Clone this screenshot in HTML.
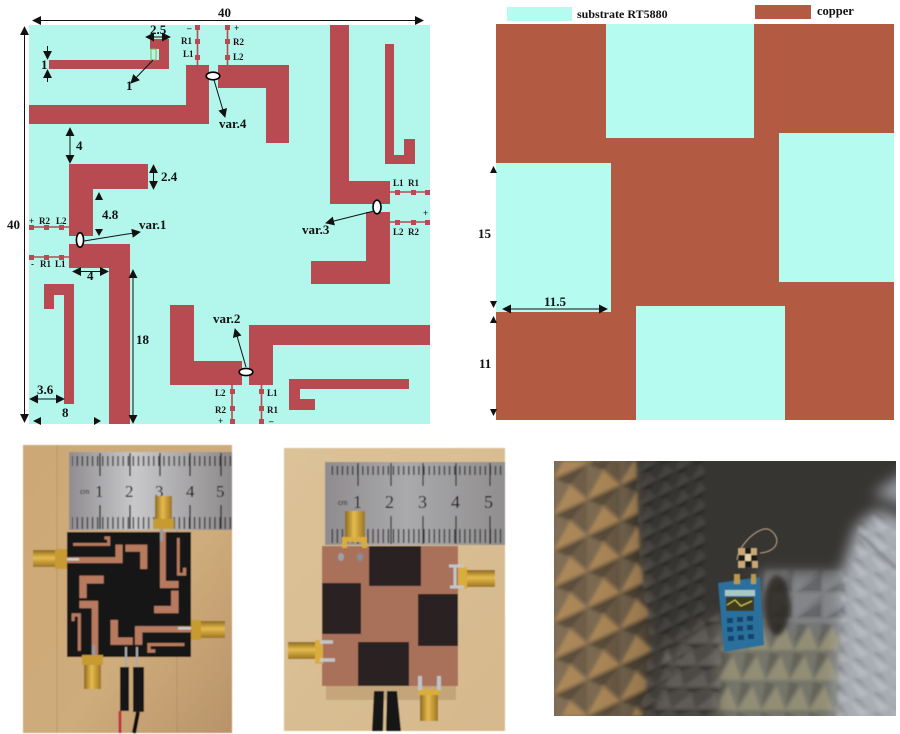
<!DOCTYPE html>
<html lang="en">
<head>
<meta charset="utf-8">
<title>Antenna layout and prototype</title>
<style>
html,body{margin:0;padding:0;background:#fff}
svg{display:block}
text{font-family:"Liberation Serif",serif;font-weight:bold;fill:#111}
.d{font-size:13px}
.s{font-size:9px}
.l{stroke:#111;stroke-width:1;fill:none}
.b{stroke:#b84a52;stroke-width:1.6;fill:none}
</style>
</head>
<body>
<svg width="900" height="734" viewBox="0 0 900 734" xmlns="http://www.w3.org/2000/svg">
<defs>
<path id="tr" d="M49 60H159V49H150V39H169V69H49Z M29 105H186V65H209V124H29Z M218 65H289V143H266V88H218Z M330 25H349V181H390V204H330Z M385 44H394V155H404V139H415V164H385Z M366 212H390V284H311V261H366Z M249 325H430V345H273V385H249Z M170 305H194V361H242V385H170Z M289 379H409V389H300V399H315V410H289Z M69 164H148V189H93V236H69Z M69 244H130V424H109V268H69Z M44 284H74V404H64V295H54V309H44Z"/>
<marker id="a" viewBox="0 0 10 10" refX="9" refY="5" markerWidth="9" markerHeight="9" orient="auto-start-reverse" markerUnits="userSpaceOnUse"><path d="M0 0L10 5L0 10Z" fill="#111"/></marker>
<filter id="bl" x="-5%" y="-5%" width="110%" height="110%"><feGaussianBlur stdDeviation="0.6"/></filter>
<filter id="bl15" x="-5%" y="-5%" width="110%" height="110%"><feGaussianBlur stdDeviation="1.5"/></filter>
<filter id="bl2" x="-10%" y="-10%" width="120%" height="120%"><feGaussianBlur stdDeviation="2.5"/></filter>
<filter id="bl3" x="-20%" y="-20%" width="140%" height="140%"><feGaussianBlur stdDeviation="7"/></filter>
<linearGradient id="wood1" x1="0" x2="1" y1="0" y2="1"><stop offset="0" stop-color="#cda877"/><stop offset=".6" stop-color="#cfac7b"/><stop offset="1" stop-color="#b8936a"/></linearGradient>
<linearGradient id="wood2" x1="0" x2="1" y1="0" y2="1"><stop offset="0" stop-color="#dcc298"/><stop offset="1" stop-color="#d6b98d"/></linearGradient>
<linearGradient id="rul" x1="0" x2="1"><stop offset="0" stop-color="#8f8d90"/><stop offset=".4" stop-color="#c8c8cb"/><stop offset="1" stop-color="#8d8a8a"/></linearGradient>
<linearGradient id="rul2" x1="0" x2="1"><stop offset="0" stop-color="#8e8c8e"/><stop offset=".45" stop-color="#aaa9ab"/><stop offset="1" stop-color="#908e8f"/></linearGradient>
<linearGradient id="gold" x1="0" x2="1"><stop offset="0" stop-color="#8c6a1c"/><stop offset=".45" stop-color="#e6bb4e"/><stop offset="1" stop-color="#9c7420"/></linearGradient>
<linearGradient id="goldh" x1="0" x2="0" y1="0" y2="1"><stop offset="0" stop-color="#8c6a1c"/><stop offset=".45" stop-color="#e6bb4e"/><stop offset="1" stop-color="#9c7420"/></linearGradient>
<pattern id="ticks" width="5.1" height="12" patternUnits="userSpaceOnUse"><rect width="1.5" height="12" fill="#2a2a2c"/></pattern>
<pattern id="pyrL" width="33" height="36" patternUnits="userSpaceOnUse" patternTransform="translate(554 478) skewY(-24)">
 <path d="M0 36L16 14L33 36Z" fill="#e0a860" fill-opacity=".45"/><path d="M0 0H33L16 14Z" fill="#000" fill-opacity=".28"/><path d="M33 0L16 14L33 36Z" fill="#000" fill-opacity=".12"/>
</pattern>
<pattern id="pyrM" width="17" height="17" patternUnits="userSpaceOnUse" patternTransform="translate(640 470) skewY(-26)">
 <path d="M0 17L8.5 8L17 17Z" fill="#fff" fill-opacity=".07"/><path d="M0 0H17L8.5 8Z" fill="#000" fill-opacity=".2"/>
</pattern>
<pattern id="pyrFL" width="24" height="22" patternUnits="userSpaceOnUse" patternTransform="translate(650 620) skewX(-30)">
 <path d="M0 22L12 8L24 22Z" fill="#fff" fill-opacity=".1"/><path d="M0 0H24L12 8Z" fill="#000" fill-opacity=".22"/>
</pattern>
<pattern id="pyrBW" width="29" height="26" patternUnits="userSpaceOnUse" patternTransform="translate(765 567)">
 <path d="M0 0H29L0 26Z" fill="#fff" fill-opacity=".1"/><path d="M29 26H0L29 8Z" fill="#000" fill-opacity=".14"/>
</pattern>
<pattern id="pyrF" width="24" height="30" patternUnits="userSpaceOnUse" patternTransform="translate(726 620) skewX(-8)">
 <path d="M0 30L12 6L24 30Z" fill="#c8bc88" fill-opacity=".35"/><path d="M0 0L12 6L0 30Z" fill="#000" fill-opacity=".15"/>
</pattern>
<pattern id="pyrR" width="20" height="20" patternUnits="userSpaceOnUse" patternTransform="translate(850 520) skewY(35)">
 <path d="M0 0H20L10 10Z" fill="#fff" fill-opacity=".18"/><path d="M0 20H20L10 10Z" fill="#000" fill-opacity=".1"/>
</pattern>
<linearGradient id="lw" x1="0" x2="1"><stop offset="0" stop-color="#86725a"/><stop offset=".6" stop-color="#7a684f"/><stop offset="1" stop-color="#5c5040"/></linearGradient>
</defs>

<!-- top layout -->
<rect x="29" y="25" width="401" height="399" fill="#b3f6ec"/>
<use href="#tr" fill="#b84a52"/>
<rect x="151" y="49" width="5" height="11" fill="#b3f6ec" stroke="#7ab84a" stroke-width="1"/>

<path class="b" d="M197.5 25V65M227.5 25V65M390 192H430M390 222H430M29 227H69M29 257H69M232 385V424M261.5 385V424"/>
<g fill="#b84a52">
<rect x="195" y="25" width="5" height="5"/><rect x="195" y="39" width="5" height="5"/><rect x="195" y="55" width="5" height="5"/>
<rect x="225" y="25" width="5" height="5"/><rect x="225" y="39" width="5" height="5"/><rect x="225" y="55" width="5" height="5"/>
<rect x="395" y="190" width="5" height="5"/><rect x="411" y="190" width="5" height="5"/><rect x="425" y="190" width="5" height="5"/>
<rect x="395" y="220" width="5" height="5"/><rect x="411" y="220" width="5" height="5"/><rect x="425" y="220" width="5" height="5"/>
<rect x="29" y="225" width="5" height="5"/><rect x="44" y="225" width="5" height="5"/><rect x="59" y="225" width="5" height="5"/>
<rect x="29" y="255" width="5" height="5"/><rect x="44" y="255" width="5" height="5"/><rect x="59" y="255" width="5" height="5"/>
<rect x="230" y="389" width="5" height="5"/><rect x="230" y="406" width="5" height="5"/><rect x="230" y="419" width="5" height="5"/>
<rect x="259" y="389" width="5" height="5"/><rect x="259" y="406" width="5" height="5"/><rect x="259" y="419" width="5" height="5"/>
</g>

<g fill="#fff" stroke="#000" stroke-width="1.6">
<ellipse cx="80" cy="240" rx="3.6" ry="7.2"/><ellipse cx="377" cy="207" rx="4" ry="6.8"/>
<ellipse cx="213" cy="76" rx="6.8" ry="3.8"/><ellipse cx="246" cy="372" rx="6.8" ry="3.6"/>
</g>

<!-- dimension lines -->
<line class="l" x1="33" y1="20.5" x2="423" y2="20.5" marker-start="url(#a)" marker-end="url(#a)"/>
<line class="l" x1="24.5" y1="27" x2="24.5" y2="422" marker-start="url(#a)" marker-end="url(#a)"/>
<line class="l" x1="146" y1="37" x2="170" y2="37" marker-start="url(#a)" marker-end="url(#a)"/>
<line class="l" x1="70" y1="128" x2="70" y2="163" marker-start="url(#a)" marker-end="url(#a)"/>
<line class="l" x1="153.5" y1="165" x2="153.5" y2="189" marker-start="url(#a)" marker-end="url(#a)"/>
<line class="l" x1="73" y1="271.5" x2="108" y2="271.5" marker-start="url(#a)" marker-end="url(#a)"/>
<line class="l" x1="133" y1="270" x2="133" y2="423" marker-start="url(#a)" marker-end="url(#a)"/>
<line class="l" x1="30" y1="399" x2="64" y2="399" marker-start="url(#a)" marker-end="url(#a)"/>
<line class="l" x1="47.5" y1="46" x2="47.5" y2="59" marker-end="url(#a)"/>
<line class="l" x1="47.5" y1="82" x2="47.5" y2="70" marker-end="url(#a)"/>
<line class="l" x1="153" y1="60" x2="131" y2="83" marker-end="url(#a)"/>
<line class="l" x1="84" y1="241" x2="140" y2="232" marker-end="url(#a)"/>
<line class="l" x1="214" y1="80" x2="225" y2="117" marker-end="url(#a)"/>
<line class="l" x1="374" y1="211" x2="326" y2="223" marker-end="url(#a)"/>
<line class="l" x1="246" y1="367" x2="235" y2="329" marker-end="url(#a)"/>
<path fill="#111" d="M95 200H103L99 192Z M95 229H103L99 236Z M33 421L41 417V425Z M101 421L94 417V425Z"/>

<!-- labels -->
<text class="d" x="218" y="17">40</text>
<text class="d" x="7" y="229">40</text>
<text class="d" x="150" y="34">2.5</text>
<text class="d" x="41" y="69">1</text>
<text class="d" x="126" y="90">1</text>
<text class="d" x="76" y="150">4</text>
<text class="d" x="161" y="181">2.4</text>
<text class="d" x="102" y="219">4.8</text>
<text class="d" x="139" y="229">var.1</text>
<text class="d" x="87" y="280">4</text>
<text class="d" x="136" y="344">18</text>
<text class="d" x="37" y="394">3.6</text>
<text class="d" x="62" y="417">8</text>
<text class="d" x="219" y="128">var.4</text>
<text class="d" x="302" y="234">var.3</text>
<text class="d" x="213" y="323">var.2</text>
<text class="s" x="187" y="31">–</text><text class="s" x="181" y="44">R1</text><text class="s" x="183" y="57">L1</text>
<text class="s" x="234" y="31">+</text><text class="s" x="233" y="45">R2</text><text class="s" x="233" y="60">L2</text>
<text class="s" x="393" y="186">L1</text><text class="s" x="408" y="186">R1</text><text class="s" x="423" y="216">+</text>
<text class="s" x="393" y="235">L2</text><text class="s" x="408" y="235">R2</text>
<text class="s" x="29" y="224">+</text><text class="s" x="39" y="224">R2</text><text class="s" x="56" y="224">L2</text>
<text class="s" x="31" y="267">-</text><text class="s" x="40" y="267">R1</text><text class="s" x="55" y="267">L1</text>
<text class="s" x="215" y="396">L2</text><text class="s" x="215" y="413">R2</text><text class="s" x="218" y="424">+</text>
<text class="s" x="267" y="396">L1</text><text class="s" x="267" y="413">R1</text><text class="s" x="269" y="424">–</text>

<!-- ground layout -->
<rect x="496" y="24" width="398" height="396" fill="#b25a42"/>
<g fill="#b5fbf0">
<rect x="606" y="24" width="148" height="114"/>
<rect x="779" y="133" width="115" height="149"/>
<rect x="496" y="163" width="115" height="149"/>
<rect x="636" y="306" width="149" height="114"/>
<rect x="507" y="7" width="65" height="14"/>
</g>
<rect x="755" y="5" width="56" height="14" fill="#b25a42"/>
<text x="577" y="18" font-size="12">substrate RT5880</text>
<text x="817" y="15" font-size="12.5">copper</text>
<text class="d" x="478" y="238">15</text>
<text class="d" x="479" y="368">11</text>
<text class="d" x="544" y="306">11.5</text>
<line class="l" x1="503" y1="309" x2="607" y2="309" marker-start="url(#a)" marker-end="url(#a)"/>
<path fill="#111" d="M490 173H497L493.5 166Z M490 301H497L493.5 308Z M490 323H497L493.5 316Z M490 409H497L493.5 416Z"/>

<!-- photo 1 -->
<g filter="url(#bl)">
<rect x="23" y="445" width="209" height="288" fill="url(#wood1)"/>
<path d="M57 445V733M177 530V733" stroke="#a9855a" stroke-width="1" fill="none" opacity=".5"/>
<rect x="69" y="452" width="163" height="78" fill="url(#rul)"/>
<rect x="72" y="456" width="160" height="10" fill="url(#ticks)" opacity=".75"/>
<rect x="72" y="517" width="160" height="12" fill="url(#ticks)" opacity=".75"/>
<g stroke="#222" stroke-width="1.3"><path d="M100 453V476M130 453V476M160 453V476M190 453V476M221 453V476M100 505V529M130 505V529M160 505V529M190 505V529M221 505V529"/></g>
<text x="95" y="497" font-size="17" style="font-weight:normal">1</text><text x="125" y="497" font-size="17" style="font-weight:normal">2</text><text x="155" y="497" font-size="17" style="font-weight:normal">3</text><text x="186" y="497" font-size="17" style="font-weight:normal">4</text><text x="216" y="497" font-size="17" style="font-weight:normal">5</text>
<text x="80" y="494" font-size="7" style="font-family:'Liberation Sans',sans-serif;font-weight:normal">cm</text>
<rect x="67" y="532" width="124" height="125" fill="#151514"/>
<g transform="translate(58 524.2) scale(.309 .3135)"><use href="#tr" fill="#b87a5e"/></g>
<!-- connectors -->
<rect x="155" y="496" width="17" height="24" fill="url(#gold)"/><rect x="153" y="519" width="21" height="10" fill="#c79a30"/>
<rect x="160" y="529" width="3" height="12" fill="#9a9a9a"/>
<rect x="33" y="550" width="26" height="17" fill="url(#goldh)"/><rect x="55" y="549" width="12" height="20" fill="#c79a30"/>
<rect x="67" y="558" width="12" height="2.5" fill="#ccc"/>
<rect x="199" y="621" width="26" height="17" fill="url(#goldh)"/><rect x="191" y="620" width="10" height="20" fill="#c79a30"/>
<rect x="178" y="627" width="13" height="2.5" fill="#ccc"/>
<rect x="84" y="664" width="17" height="25" fill="url(#gold)"/><rect x="82" y="655" width="21" height="10" fill="#c79a30"/>
<rect x="92" y="645" width="3" height="11" fill="#999"/>
<path d="M126 647V668M137 647V668" stroke="#aaa" stroke-width="2"/>
<rect x="120" y="667" width="9" height="44" fill="#141414"/><rect x="133" y="667" width="11" height="45" fill="#141414"/>
<path d="M120 711V733" stroke="#c0303a" stroke-width="3"/><path d="M138 712L134 733" stroke="#111" stroke-width="4"/>
</g>

<!-- photo 2 -->
<g filter="url(#bl)">
<rect x="284" y="448" width="221" height="283" fill="url(#wood2)"/>
<rect x="325" y="462" width="180" height="83" fill="url(#rul2)"/>
<rect x="329" y="466" width="176" height="9" fill="url(#ticks)" opacity=".75"/>
<rect x="329" y="529" width="176" height="14" fill="url(#ticks)" opacity=".75"/>
<g stroke="#222" stroke-width="1.2"><path d="M358 463V486M391 463V486M423 463V486M456 463V486M490 463V486M358 516V544M391 516V544M423 516V544M456 516V544M490 516V544"/></g>
<text x="353" y="508" font-size="18" style="font-weight:normal">1</text><text x="385" y="508" font-size="18" style="font-weight:normal">2</text><text x="418" y="508" font-size="18" style="font-weight:normal">3</text><text x="451" y="508" font-size="18" style="font-weight:normal">4</text><text x="484" y="508" font-size="18" style="font-weight:normal">5</text>
<text x="338" y="505" font-size="7" style="font-family:'Liberation Sans',sans-serif;font-weight:normal">cm</text>
<rect x="326" y="686" width="130" height="14" fill="#a58458" opacity=".4"/>
<rect x="322" y="546" width="136" height="140" fill="#a9705a"/>
<g fill="#2b2320">
<rect x="369" y="546" width="52" height="40"/><rect x="322" y="583" width="39" height="51"/>
<rect x="418" y="594" width="40" height="52"/><rect x="358" y="642" width="51" height="44"/>
</g>
<rect x="345" y="511" width="20" height="26" fill="url(#gold)"/><path d="M342 548V537H367V548H362V542H347V548Z" fill="#d9ad3d"/>
<ellipse cx="341" cy="557" rx="3" ry="4" fill="#9ea1a6"/><ellipse cx="360" cy="557" rx="3" ry="4" fill="#8b8e94"/>
<rect x="465" y="570" width="30" height="17" fill="url(#goldh)"/><rect x="458" y="567" width="9" height="22" fill="#d9ad3d"/>
<path d="M449 566H464M450 587H464M455 566V587" stroke="#c4c6ca" stroke-width="3" fill="none"/>
<rect x="288" y="642" width="33" height="17" fill="url(#goldh)"/><rect x="315" y="640" width="8" height="24" fill="#d9ad3d"/>
<path d="M320 642H333M320 660H335" stroke="#c4c6ca" stroke-width="3.5" fill="none"/>
<rect x="420" y="691" width="18" height="30" fill="url(#gold)"/><rect x="418" y="689" width="22" height="6" fill="#d9ad3d"/>
<path d="M420 676V690M439 676V690" stroke="#bfc2c6" stroke-width="4" fill="none"/>
<path d="M374 691L372 731H383L384 691ZM387 691L386 731H401L397 691Z" fill="#161616"/>
</g>

<!-- photo 3: anechoic chamber -->
<svg x="554" y="461" width="342" height="255" viewBox="554 461 342 255">
<rect x="554" y="461" width="342" height="255" fill="#373532"/>
<!-- low-frequency lighting -->
<g filter="url(#bl3)">
<path d="M530 440H633L640 560L650 640L640 740H530Z" fill="url(#lw)"/>
<path d="M650 740L665 650L720 610V740Z" fill="#4e4a44"/>
<path d="M720 625H850V740H720Z" fill="#75746b"/>
<path d="M760 572H850V630H760Z" fill="#74777a"/>
<path d="M856 526L876 510L920 524V740H834L843 568Z" fill="#a8acb4"/>
<path d="M873 494L920 462V511Z" fill="#9a9da3"/>
</g>
<!-- pyramid texture -->
<g filter="url(#bl15)">
<path d="M550 461H636L640 560L652 640L642 716H550Z" fill="url(#pyrL)"/>
<path d="M636 461H705V620L655 716H642L652 640L640 560Z" fill="url(#pyrM)"/>
<path d="M655 716L665 650L720 612V716Z" fill="url(#pyrFL)"/>
<path d="M762 570H845V622H762Z" fill="url(#pyrBW)"/>
<path d="M720 622H838V716H720Z" fill="url(#pyrF)"/>
<path d="M858 524L876 513L896 524V716H836L843 568L859 541Z" fill="url(#pyrR)"/>
<path d="M859 533L896 568" stroke="#6d6e70" stroke-width="3" fill="none" opacity=".6"/>
</g>
<ellipse cx="777" cy="605" rx="13" ry="30" fill="#26241f" filter="url(#bl2)" opacity=".8"/>
<g filter="url(#bl)">
<path d="M718 583L760 577L764 645L724 652Z" fill="#2b6f9d"/>
<rect x="726" y="597" width="28" height="14" fill="#3d3a1e"/>
<path d="M727 605L735 600L741 606L752 601" stroke="#d8d060" stroke-width="1" fill="none"/>
<rect x="725" y="590" width="30" height="6" fill="#a8c8c8"/>
<g fill="#15426a"><rect x="727" y="618" width="6" height="5"/><rect x="737" y="617" width="6" height="5"/><rect x="747" y="616" width="6" height="5"/><rect x="727" y="627" width="6" height="5"/><rect x="737" y="626" width="6" height="5"/><rect x="747" y="625" width="6" height="5"/><rect x="728" y="636" width="6" height="5"/><rect x="738" y="635" width="6" height="5"/><rect x="748" y="634" width="6" height="5"/></g>
<rect x="734" y="574" width="6" height="10" fill="#b99a4e"/><rect x="751" y="574" width="5" height="10" fill="#b99a4e"/>
<path d="M737 560C738 545 760 524 770 530C782 538 778 552 760 553" stroke="#c9b08a" stroke-width="1" fill="none"/>
<rect x="738" y="548" width="7" height="7" fill="#c8a878"/><rect x="750" y="548" width="7" height="7" fill="#c8a878"/>
<rect x="745" y="554" width="7" height="7" fill="#e8d0a8"/>
<rect x="738" y="561" width="7" height="7" fill="#c8a878"/><rect x="752" y="561" width="6" height="7" fill="#c8a878"/>
<rect x="745" y="548" width="6" height="6" fill="#1a1a18"/><rect x="751" y="555" width="6" height="6" fill="#1a1a18"/><rect x="739" y="555" width="6" height="6" fill="#1a1a18"/><rect x="745" y="561" width="6" height="6" fill="#1a1a18"/>
</g>
</svg>
</svg>
</body>
</html>
